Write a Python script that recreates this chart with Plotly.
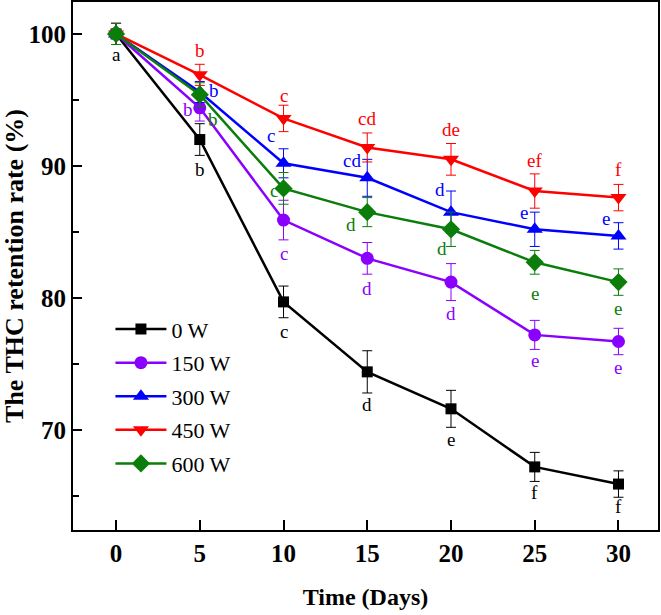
import plotly.graph_objects as go

days = [0, 5, 10, 15, 20, 25, 30]
series_names = ["0 W", "150 W", "300 W", "450 W", "600 W"]
v_0w = [100.0, 92.0, 79.7, 74.4, 71.6, 67.2, 65.9]
v_150w = [100.0, 94.4, 85.9, 83.0, 81.2, 77.2, 76.7]
v_300w = [100.0, 95.6, 90.2, 89.1, 86.5, 85.2, 84.7]
v_450w = [100.0, 96.9, 93.6, 91.4, 90.5, 88.1, 87.6]
v_600w = [100.0, 95.4, 88.3, 86.5, 85.2, 82.7, 81.2]
e_0w = [0.8, 1.2, 1.2, 1.6, 1.4, 1.1, 1.0]
e_150w = [0.8, 1.0, 1.5, 1.2, 1.4, 1.1, 1.0]
e_300w = [0.8, 0.8, 1.1, 1.4, 1.6, 1.3, 1.0]
e_450w = [0.8, 0.8, 1.0, 1.1, 1.2, 1.3, 1.0]
e_600w = [0.8, 0.9, 1.2, 1.1, 1.3, 0.9, 1.0]
l_0w = ["a", "b", "c", "d", "e", "f", "f"]
l_150w = ["", "b", "c", "d", "d", "e", "e"]
l_300w = ["", "b", "c", "cd", "d", "e", "e"]
l_450w = ["", "b", "c", "cd", "de", "ef", "f"]
l_600w = ["", "b", "c", "d", "d", "e", "e"]
x_ticks = [0, 5, 10, 15, 20, 25, 30]
y_ticks = [70, 80, 90, 100]

# label offsets in pixels (dx, dy; dy positive = downward)
off_0w = [(0, 23), (0, 32), (0, 32), (0, 35), (0, 33), (0, 28), (0, 24)]
off_150w = [None, (-12, 4), (0, 35), (0, 32), (0, 33), (0, 28), (0, 28)]
off_300w = [None, (14, 0), (-13, -26), (-15, -15), (-11, -21), (-11, -15), (-12, -15)]
off_450w = [None, (0, -22), (0, -21), (0, -27), (0, -28), (0, -29), (0, -26)]
off_600w = [None, (13, 27), (-10, 4), (-16, 14), (-9, 21), (0, 33), (0, 28)]

colors = ["#000000", "#8a00ff", "#0000ff", "#ff0000", "#0b7d0b"]
symbols = ["square", "circle", "triangle-up", "triangle-down", "diamond"]
msizes = [11, 13, 14, 14, 14]

values = [v_0w, v_150w, v_300w, v_450w, v_600w]
errors = [e_0w, e_150w, e_300w, e_450w, e_600w]
letters = [l_0w, l_150w, l_300w, l_450w, l_600w]
offsets = [off_0w, off_150w, off_300w, off_450w, off_600w]

SERIF = "Liberation Serif"

fig = go.Figure()
for name, vals, errs, col, sym, ms in zip(series_names, values, errors, colors, symbols, msizes):
    fig.add_trace(go.Scatter(
        x=days, y=vals, name=name, mode="lines+markers", legendgroup=name,
        line=dict(color=col, width=2.5),
        marker=dict(symbol=sym, size=ms, color=col),
        error_y=dict(type="data", array=errs, visible=True, color=col, thickness=1, width=5),
    ))

annotations = []
for vals, labs, offs, col in zip(values, letters, offsets, colors):
    for d, v, lab, off in zip(days, vals, labs, offs):
        if not lab or off is None:
            continue
        annotations.append(dict(
            x=d, y=v, xref="x", yref="y", text=lab, showarrow=False,
            xshift=off[0], yshift=-off[1] + 2,
            font=dict(family=SERIF, size=19, color=col),
        ))

fig.update_layout(
    width=661, height=615,
    margin=dict(l=73, r=3, t=2, b=85),
    paper_bgcolor="white", plot_bgcolor="white",
    font=dict(family=SERIF, color="black"),
    showlegend=True,
    legend=dict(
        x=0.064, y=0.42, xanchor="left", yanchor="top",
        bgcolor="rgba(0,0,0,0)", borderwidth=0,
        font=dict(family=SERIF, size=22, color="black"),
        tracegroupgap=2, itemwidth=51,
    ),
    annotations=annotations,
)

fig.update_xaxes(
    range=[-2.57, 32.36], tickvals=x_ticks, ticks="inside", ticklen=10, tickwidth=2,
    tickcolor="black", showline=True, linecolor="black", linewidth=2, mirror=True,
    showgrid=False, zeroline=False, automargin=False,
    tickfont=dict(family=SERIF, size=25, color="black", weight="bold"),
    title=dict(text="Time (Days)", font=dict(family=SERIF, size=24, color="black", weight="bold"), standoff=22),
)
fig.update_yaxes(
    range=[62.42, 102.42], tickvals=y_ticks, ticks="inside", ticklen=9, tickwidth=2,
    tickcolor="black", showline=True, linecolor="black", linewidth=2, mirror=True,
    showgrid=False, zeroline=False, automargin=False,
    minor=dict(dtick=5, tick0=65, ticks="inside", ticklen=6, tickwidth=2, tickcolor="black", showgrid=False),
    tickfont=dict(family=SERIF, size=25, color="black", weight="bold"),
    title=dict(text="The THC retention rate (%)", font=dict(family=SERIF, size=26, color="black", weight="bold"), standoff=22),
)

fig.write_html(
    "out.html",
    config={"displayModeBar": False},
    post_script="document.body.style.margin='0';document.body.style.overflow='hidden';",
)
